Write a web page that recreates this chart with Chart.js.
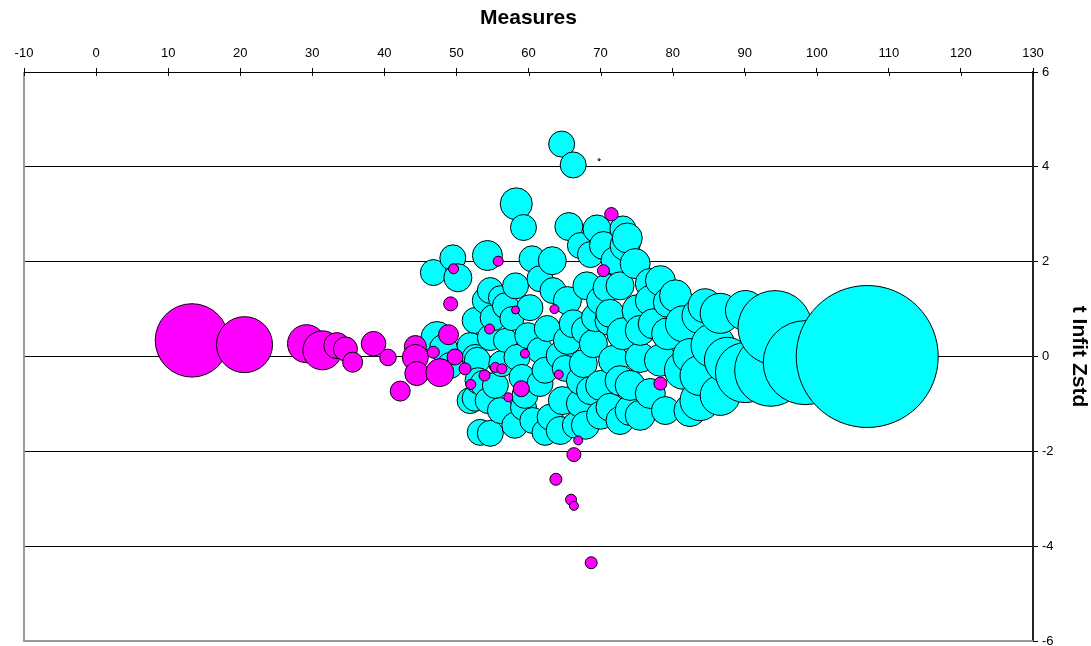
<!DOCTYPE html>
<html>
<head>
<meta charset="utf-8">
<script src="https://cdn.jsdelivr.net/npm/chart.js@4.4.1/dist/chart.umd.min.js"></script>
<style>
  html, body { margin: 0; padding: 0; background: #ffffff; }
  #wrap { width: 1091px; height: 646px; }
</style>
</head>
<body>
<div id="wrap"><canvas id="chart" width="1091" height="646"></canvas></div>
<script>
// Axis tick values
const measureTicks = [-10, 0, 10, 20, 30, 40, 50, 60, 70, 80, 90, 100, 110, 120, 130];
const zstdTicks = [-6, -4, -2, 0, 2, 4, 6];

// Items: [measure, t Infit Zstd, bubble size]
const cyanItems = [
  [47.3, 0.40, 16], [48.2, 0.17, 14], [49.1, -0.19, 13], [52.6, -0.02, 13], [53.0, -0.51, 13], [52.6, -0.88, 13],
  [46.8, 1.77, 13], [49.5, 2.08, 13], [50.2, 1.66, 14], [54.3, 2.13, 15], [58.3, 3.22, 16], [59.3, 2.72, 13],
  [64.6, 4.48, 13], [66.2, 4.04, 13], [69.8, 4.15, 1], [65.6, 2.74, 14], [69.5, 2.69, 14], [73.1, 2.69, 13],
  [73.7, 2.50, 15], [60.5, 2.06, 13], [63.3, 2.02, 14], [68.6, 2.15, 13], [70.4, 2.34, 14], [73.4, 2.34, 15],
  [74.8, 1.96, 15],
  [54.7, 1.39, 13], [56.1, 1.24, 12], [55.1, 0.82, 13], [54.7, 0.40, 13], [52.9, -0.08, 13], [53.7, -0.57, 13],
  [54.4, -0.93, 13], [56.3, -0.15, 13], [58.4, -0.02, 13], [59.1, -0.44, 13], [59.9, 0.44, 13], [60.2, 1.03, 13],
  [62.6, 0.59, 13], [61.6, 0.13, 13], [61.6, -0.57, 13], [59.3, -1.07, 13], [60.6, -1.35, 13], [63.0, -1.28, 13],
  [64.7, -0.93, 14], [67.2, -0.99, 14], [68.6, -0.72, 14], [67.6, -0.15, 14], [65.1, -0.25, 13], [65.4, 0.34, 14],
  [69.0, 0.27, 14], [63.4, 1.39, 13], [65.4, 1.18, 14], [66.2, 0.69, 14], [69.3, 0.82, 14], [68.1, 1.49, 14],
  [70.9, 1.45, 14], [71.3, 0.76, 15], [53.3, -1.60, 13], [54.7, -1.62, 13], [56.8, 0.34, 12], [57.7, 0.80, 12],
  [64.4, -1.56, 14], [66.5, -1.45, 13], [70.0, -1.24, 14], [72.7, -0.51, 15], [71.8, -0.08, 15], [71.3, -1.07, 14],
  [75.5, -0.02, 15], [76.9, -0.78, 15], [74.1, -1.14, 15], [79.0, -1.14, 14], [72.7, 1.49, 14], [76.9, 1.54, 15],
  [79.4, 1.14, 15], [75.2, 0.97, 16], [73.1, 0.48, 16], [77.3, 0.69, 15], [79.3, 0.48, 16], [76.9, 1.18, 15],
  [71.3, 0.91, 14],
  [58.2, 1.49, 13], [61.6, 1.64, 13], [56.8, 1.07, 13], [52.6, 0.76, 13], [51.9, 0.23, 13], [51.9, -0.93, 13],
  [56.1, -1.14, 13], [58.1, -1.45, 13], [62.3, -1.60, 13], [67.9, -1.45, 14], [72.7, -1.35, 14], [75.5, -1.24, 15],
  [82.4, -1.14, 16], [86.6, -0.82, 20], [70.0, -0.61, 15], [74.1, -0.61, 15], [78.3, -0.08, 16], [82.4, 0.02, 17],
  [84.5, 1.07, 17], [90.1, 0.97, 20], [70.0, 1.18, 14], [67.9, 0.55, 14], [64.4, 0.02, 14], [62.3, -0.29, 13],
  [67.2, -0.51, 14], [59.5, -0.82, 13], [55.4, -0.61, 13], [75.5, 0.55, 15], [78.3, 1.60, 15], [80.4, 1.28, 16],
  [72.0, 2.02, 14], [67.2, 2.34, 13], [54.0, 1.18, 13],
  [81.5, 0.69, 18], [81.5, -0.29, 19], [83.8, -0.93, 20], [85.6, 0.23, 22], [83.8, -0.40, 20], [87.6, -0.08, 23],
  [86.6, 0.91, 20], [83.8, 0.86, 18], [90.1, -0.34, 30], [94.2, 0.61, 37], [93.6, -0.29, 36], [98.4, -0.13, 42],
  [107.0, 0.00, 71]
];

const magentaItems = [
  [13.3, 0.34, 36.7], [20.6, 0.25, 28], [29.2, 0.27, 19], [31.4, 0.13, 19.5], [33.4, 0.23, 13], [34.6, 0.16, 12],
  [35.6, -0.12, 10], [38.5, 0.27, 12.3], [40.5, -0.02, 8.3], [42.2, -0.73, 10], [44.3, 0.21, 11], [44.3, -0.02, 13],
  [44.5, -0.36, 12], [47.7, -0.34, 14], [46.8, 0.09, 6], [48.9, 0.46, 10], [49.8, -0.01, 8], [51.2, -0.26, 6],
  [52.0, -0.59, 5], [49.2, 1.11, 7], [49.6, 1.85, 5], [55.8, 2.01, 5], [70.4, 1.81, 6], [71.5, 3.00, 6.7],
  [58.2, 0.98, 4], [63.6, 1.00, 4.5], [54.6, 0.58, 5], [59.5, 0.06, 4.5], [55.4, -0.23, 5], [56.3, -0.26, 5],
  [53.9, -0.40, 5.5], [57.2, -0.86, 4.5], [59.0, -0.68, 8], [64.2, -0.38, 4.5], [78.3, -0.57, 6.5],
  [66.9, -1.77, 4.5], [66.3, -2.07, 7], [63.8, -2.59, 6], [65.9, -3.02, 5.5], [66.3, -3.15, 4.5], [68.7, -4.35, 6]
];

const FONT = '"Liberation Sans", Arial, Helvetica, sans-serif';

// Bubbles are stacked in order of measure, so larger measures sit on top
function toPoints(items) {
  return items.slice().sort((a, b) => a[0] - b[0]).map(([x, y, r]) => ({ x, y, r }));
}

// Grey plot frame on the left and bottom edges, plus inner tick marks under the top axis
const plotFrame = {
  id: 'plotFrame',
  beforeDatasetsDraw(chart) {
    const { ctx, chartArea: a, scales } = chart;
    ctx.save();
    ctx.strokeStyle = '#9a9a9a';
    ctx.lineWidth = 2;
    ctx.beginPath();
    ctx.moveTo(a.left, a.top);
    ctx.lineTo(a.left, a.bottom);
    ctx.lineTo(a.right, a.bottom);
    ctx.stroke();
    ctx.strokeStyle = '#000';
    ctx.lineWidth = 1;
    ctx.beginPath();
    scales.x.ticks.forEach(t => {
      const px = Math.round(scales.x.getPixelForValue(t.value)) + 0.5;
      ctx.moveTo(px, a.top);
      ctx.lineTo(px, a.top + 4);
    });
    ctx.stroke();
    ctx.restore();
  }
};

new Chart(document.getElementById('chart'), {
  type: 'bubble',
  data: {
    datasets: [
      {
        label: 'Misfit',
        data: toPoints(magentaItems),
        backgroundColor: '#FF00FF',
        borderColor: '#000000',
        borderWidth: 1,
        order: 0
      },
      {
        label: 'Fit',
        data: toPoints(cyanItems),
        backgroundColor: '#00FFFF',
        borderColor: '#000000',
        borderWidth: 1,
        order: 1
      }
    ]
  },
  options: {
    responsive: false,
    animation: false,
    events: [],
    layout: { autoPadding: false, padding: { left: 24, right: 0, top: 0, bottom: 5 } },
    plugins: {
      legend: { display: false },
      tooltip: { enabled: false }
    },
    scales: {
      x: {
        type: 'linear',
        position: 'top',
        min: -10,
        max: 130,
        afterBuildTicks: s => { s.ticks = measureTicks.map(v => ({ value: v })); },
        afterFit: s => { s.height = 72; s.paddingLeft = 0; s.paddingRight = 0; },
        title: {
          display: true,
          text: 'Measures',
          color: '#000',
          font: { family: FONT, size: 21, weight: 'bold' },
          padding: { top: 6, bottom: 0 }
        },
        ticks: {
          color: '#000',
          font: { family: FONT, size: 13 },
          padding: 7,
          maxRotation: 0,
          autoSkip: false
        },
        grid: { drawOnChartArea: false, drawTicks: true, tickLength: 4, tickColor: '#000' },
        border: { display: true, color: '#000', width: 1 }
      },
      y: {
        type: 'linear',
        position: 'right',
        min: -6,
        max: 6,
        afterBuildTicks: s => { s.ticks = zstdTicks.map(v => ({ value: v })); },
        afterFit: s => { s.width = 58; s.paddingTop = 0; s.paddingBottom = 0; },
        title: {
          display: true,
          text: 't Infit Zstd',
          color: '#000',
          font: { family: FONT, size: 21, weight: 'bold' },
          padding: { top: 0, bottom: 0 }
        },
        ticks: {
          color: '#000',
          font: { family: FONT, size: 13 },
          padding: 4,
          autoSkip: false
        },
        grid: { color: '#000', lineWidth: 1, drawTicks: true, tickLength: 5, tickColor: '#000' },
        border: { display: true, color: '#222', width: 2 }
      }
    }
  },
  plugins: [plotFrame]
});
</script>
</body>
</html>
